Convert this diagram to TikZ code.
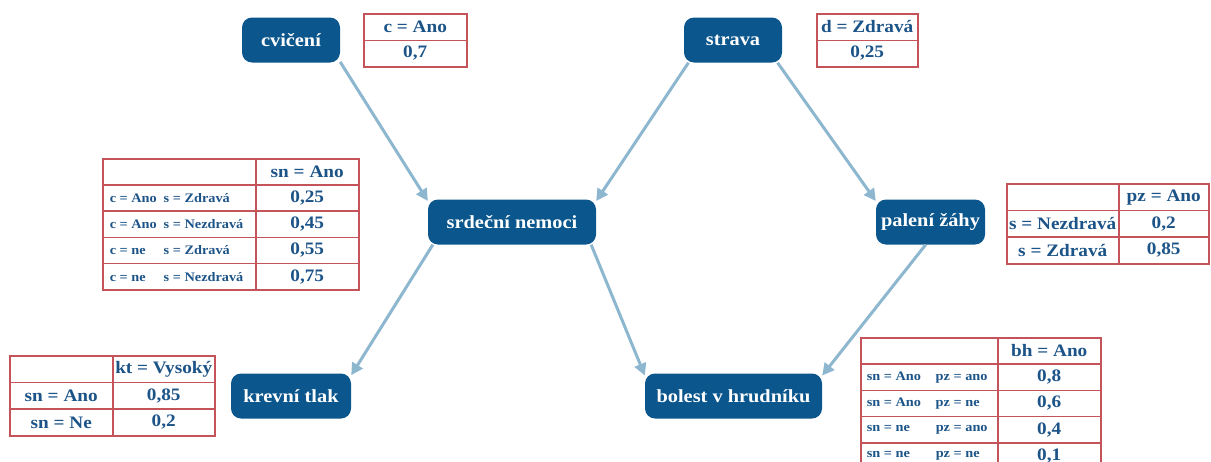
\documentclass[tikz,border=0pt]{standalone}
\usepackage{fontspec}
\setmainfont{Liberation Serif}[FakeStretch=1.1]
\usetikzlibrary{arrows.meta,positioning,calc}
\definecolor{NodeBlue}{RGB}{11,86,140}
\definecolor{LinkBlue}{RGB}{141,182,207}
\definecolor{CellRed}{RGB}{196,84,90}
\definecolor{TabBlue}{RGB}{28,84,136}
\tikzset{
  var/.style={fill=NodeBlue,text=white,rounded corners=10pt,minimum height=45pt,inner sep=0pt,font=\fontsize{18.5}{22}\selectfont\bfseries},
  link/.style={-{Triangle[length=12pt,width=12pt]},draw=LinkBlue,line width=3pt},
  cell/.style={draw=CellRed,line width=1.5pt,text=TabBlue,anchor=north west,inner sep=0pt,font=\fontsize{17.5}{20}\selectfont\bfseries},
  small/.style={font=\fontsize{13}{16}\selectfont\bfseries},
}

\begin{document}
\begin{tikzpicture}[x=1pt,y=-1pt]
  \useasboundingbox (0,0) rectangle (1211,461);

  % --- variables ---
  \node[var, minimum width=98pt] (cv) at (291,40) {cvičení};
  \node[var, minimum width=98pt] (st) at (733,40) {strava};
  \node[var, minimum width=168pt] (sn) at (512,222) {srdeční nemoci};
  \node[var, minimum width=109pt] (pz) at (930.5,222) {palení žáhy};
  \node[var, minimum width=120pt] (kt) at (291,396) {krevní tlak};
  \node[var, minimum width=177pt] (bh) at (733.5,396) {bolest v hrudníku};

  \draw[link] (cv.-24) -- (sn.166);
  \draw[link] (st.207) -- (sn.14);
  \draw[link] (st.-27) -- (pz.159);
  \draw[link] (sn.196) -- (kt.19);
  \draw[link] (sn.-16) -- (bh.167);
  \draw[link] (pz.258) -- (bh.13);

  % --- cvičení ---
  \node[cell, minimum width=103pt, minimum height=26.5pt] (cvH) at (363,13) {c = Ano};
  \node[cell, minimum width=103pt, minimum height=26.5pt] (cvV) at (363,39.5) {0,7};

  % --- strava ---
  \node[cell, minimum width=101pt, minimum height=26.5pt] (stH) at (816,13) {d = Zdravá};
  \node[cell, minimum width=101pt, minimum height=26.5pt] (stV) at (816,39.5) {0,25};

  % --- srdeční nemoci ---
  \node[cell, minimum width=153pt, minimum height=26.2pt] (snH0) at (102,158) {};
  \node[cell, minimum width=103pt, minimum height=26.2pt] (snH1) at (255,158) {sn = Ano};
  \node[cell, small, minimum width=153pt, minimum height=26.2pt] (snA0) at (102,184.2) {\makebox[139pt][l]{\makebox[54pt][l]{c = Ano}s = Zdravá}};
  \node[cell, minimum width=103pt, minimum height=26.2pt] (snA1) at (255,184.2) {0,25};
  \node[cell, small, minimum width=153pt, minimum height=26.2pt] (snB0) at (102,210.4) {\makebox[139pt][l]{\makebox[54pt][l]{c = Ano}s = Nezdravá}};
  \node[cell, minimum width=103pt, minimum height=26.2pt] (snB1) at (255,210.4) {0,45};
  \node[cell, small, minimum width=153pt, minimum height=26.2pt] (snC0) at (102,236.6) {\makebox[139pt][l]{\makebox[54pt][l]{c = ne}s = Zdravá}};
  \node[cell, minimum width=103pt, minimum height=26.2pt] (snC1) at (255,236.6) {0,55};
  \node[cell, small, minimum width=153pt, minimum height=26.2pt] (snD0) at (102,262.8) {\makebox[139pt][l]{\makebox[54pt][l]{c = ne}s = Nezdravá}};
  \node[cell, minimum width=103pt, minimum height=26.2pt] (snD1) at (255,262.8) {0,75};

  % --- krevní tlak ---
  \node[cell, minimum width=103pt, minimum height=26.7pt] (ktH0) at (9,355) {};
  \node[cell, minimum width=102pt, minimum height=26.7pt] (ktH1) at (112,355) {kt = Vysoký};
  \node[cell, minimum width=103pt, minimum height=26.7pt] (ktA0) at (9,381.7) {sn = Ano};
  \node[cell, minimum width=102pt, minimum height=26.7pt] (ktA1) at (112,381.7) {0,85};
  \node[cell, minimum width=103pt, minimum height=26.7pt] (ktB0) at (9,408.4) {sn = Ne};
  \node[cell, minimum width=102pt, minimum height=26.7pt] (ktB1) at (112,408.4) {0,2};

  % --- palení žáhy ---
  \node[cell, minimum width=112pt, minimum height=26.7pt] (pzH0) at (1006,183) {};
  \node[cell, minimum width=90pt, minimum height=26.7pt] (pzH1) at (1118,183) {pz = Ano};
  \node[cell, minimum width=112pt, minimum height=26.7pt] (pzA0) at (1006,209.7) {s = Nezdravá};
  \node[cell, minimum width=90pt, minimum height=26.7pt] (pzA1) at (1118,209.7) {0,2};
  \node[cell, minimum width=112pt, minimum height=26.7pt] (pzB0) at (1006,236.4) {s = Zdravá};
  \node[cell, minimum width=90pt, minimum height=26.7pt] (pzB1) at (1118,236.4) {0,85};

  % --- bolest v hrudníku (last row runs off the page) ---
  \node[cell, minimum width=137pt, minimum height=26.3pt] (bhH0) at (860,337) {};
  \node[cell, minimum width=103pt, minimum height=26.3pt] (bhH1) at (997,337) {bh = Ano};
  \node[cell, small, minimum width=137pt, minimum height=26.3pt] (bhA0) at (860,363.3) {\makebox[125pt][l]{\makebox[69pt][l]{sn = Ano}pz = ano}};
  \node[cell, minimum width=103pt, minimum height=26.3pt] (bhA1) at (997,363.3) {0,8};
  \node[cell, small, minimum width=137pt, minimum height=26.3pt] (bhB0) at (860,389.6) {\makebox[125pt][l]{\makebox[69pt][l]{sn = Ano}pz = ne}};
  \node[cell, minimum width=103pt, minimum height=26.3pt] (bhB1) at (997,389.6) {0,6};
  \node[cell, small, minimum width=137pt, minimum height=26.3pt] (bhC0) at (860,415.9) {\makebox[125pt][l]{\makebox[69pt][l]{sn = ne}pz = ano}};
  \node[cell, minimum width=103pt, minimum height=26.3pt] (bhC1) at (997,415.9) {0,4};
  \node[cell, small, minimum width=137pt, minimum height=26.3pt] (bhD0) at (860,442.2) {\makebox[125pt][l]{\makebox[69pt][l]{sn = ne}pz = ne}};
  \node[cell, minimum width=103pt, minimum height=26.3pt] (bhD1) at (997,442.2) {0,1};
\end{tikzpicture}
\end{document}
